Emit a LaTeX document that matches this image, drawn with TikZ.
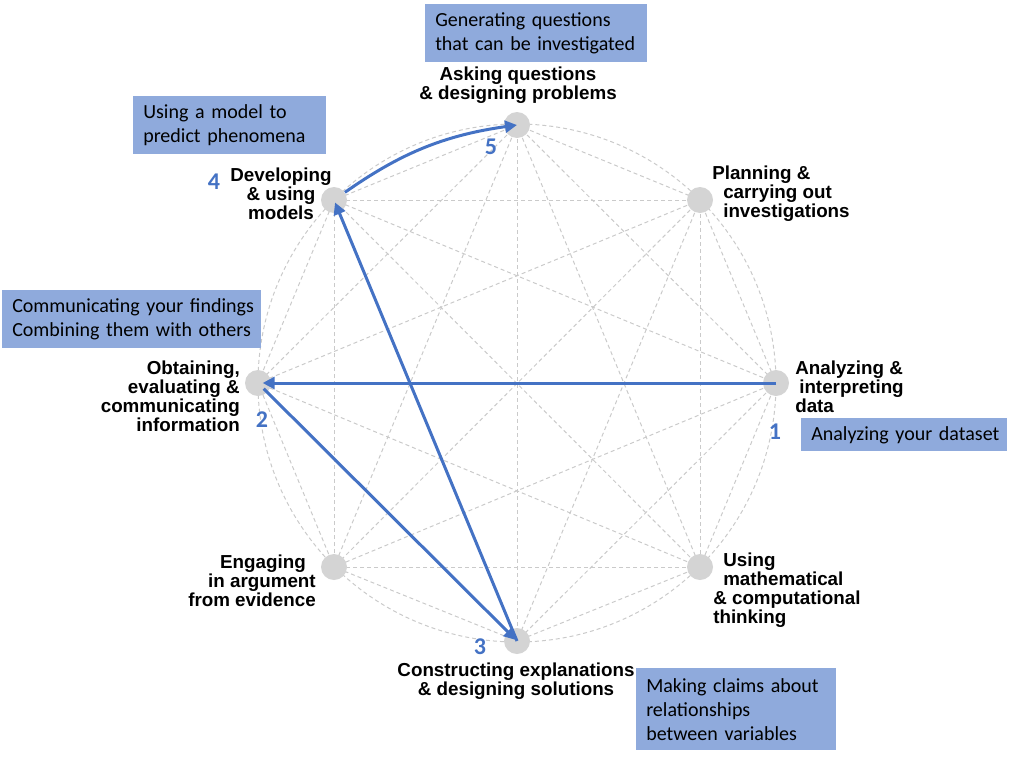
\documentclass[tikz,border=0pt]{standalone}
\usepackage{fontspec}
\setmainfont{Liberation Sans}
\newfontfamily\boxfont{Carlito}
\newcommand\notetextfont{\boxfont\fontsize{15}{18}\selectfont\spaceskip=3pt plus 1pt\relax}
\usetikzlibrary{arrows.meta,backgrounds}
\definecolor{boxblue}{HTML}{8FAADC}
\definecolor{arrblue}{HTML}{4472C4}
\definecolor{dotgray}{HTML}{D4D4D4}
\definecolor{dashgray}{HTML}{CACACA}
\tikzset{
  dot/.style={circle,fill=dotgray,minimum size=19.5pt,inner sep=0pt},
  pract/.style={font=\fontsize{14.1}{14.25}\selectfont\bfseries, inner sep=0pt},
  note/.style={fill=boxblue, anchor=north west, font=\notetextfont,
    align=left, inner xsep=7.5pt, inner ysep=0pt},
  num/.style={text=arrblue, font=\boxfont\bfseries\fontsize{18}{18}\selectfont, inner sep=0pt},
  dashline/.style={draw=dashgray, line width=0.75pt, dash pattern=on 3pt off 2.25pt},
  flow/.style={draw=arrblue, line width=2.25pt, -{Triangle[length=9pt,width=9pt]}}
}
\begin{document}
\begin{tikzpicture}[x=0.75pt,y=-0.75pt]
\useasboundingbox (0,0) rectangle (1024,768);
% practice dots
\node[dot] (q) at (517,125) {};
\node[dot] (p) at (700,200) {};
\node[dot] (a) at (776,383) {};
\node[dot] (m) at (700,567) {};
\node[dot] (c) at (517,641) {};
\node[dot] (e) at (334,567) {};
\node[dot] (o) at (258,383) {};
\node[dot] (d) at (334,200) {};
\begin{scope}[on background layer]
  \draw[dashline] (517,383) circle[radius=259];
  \foreach \u [count=\i] in {q,p,a,m,c,e,o,d}{
    \foreach \v [count=\j] in {q,p,a,m,c,e,o,d}{
      \ifnum\i<\j \draw[dashline] (\u.center) -- (\v.center);\fi
    }
  }
\end{scope}
% practice labels
\node[pract, align=center] (lq) at (518,85.5) {Asking questions\\\& designing problems};
\node[pract, align=left, anchor=west] (lp) at (712,194) {Planning \&\\\hspace*{8.25pt}carrying out\\\hspace*{8.25pt}investigations};
\node[pract, align=left, anchor=west] (la) at (795,387) {Analyzing \&\\\hspace*{3pt}interpreting\\data};
\node[pract, align=left, anchor=west] (lm) at (713,590) {\hspace*{7.5pt}Using\\\hspace*{7.5pt}mathematical\\\& computational\\thinking};
\node[pract, align=center] (lc) at (516,681.5) {Constructing explanations\\\& designing solutions};
\node[pract, align=right, anchor=east] (le) at (316,580.5) {Engaging\hspace*{7.5pt}\\in argument\hspace*{7.5pt}\\from evidence};
\node[pract, align=right, anchor=east] (lo) at (240,396) {Obtaining,\\evaluating \&\hspace*{2.5pt}\\communicating\\information};
\node[pract, align=center] (ld) at (281,194) {Developing\\\& using\\models};
% note boxes
\node[note, minimum width=166.5pt, minimum height=43.5pt, text width=151.5pt] (b5) at (425,4) {\mbox{Generating questions}\\\mbox{that can be investigated}};
\node[note, minimum width=144.75pt, minimum height=43.5pt, text width=129.75pt] (b4) at (133,96) {\mbox{Using a model to}\\\mbox{predict phenomena}};
\node[note, minimum width=194.25pt, minimum height=43.5pt, text width=179.25pt] (b2) at (2,290) {\mbox{Communicating your findings}\\\mbox{Combining them with others}};
\node[note, minimum width=154.5pt, minimum height=24.75pt, text width=139.5pt] (b1) at (801,418) {\mbox{Analyzing your dataset}};
\node[note, minimum width=150pt, minimum height=61.5pt, text width=135pt] (b3) at (636,668) {\mbox{Making claims about}\\\mbox{relationships}\\\mbox{between variables}};
% step numbers
\node[num] (n5) at (491,147) {5};
\node[num] (n4) at (214,182) {4};
\node[num] (n2) at (262,420) {2};
\node[num] (n1) at (775,432) {1};
\node[num] (n3) at (480,647) {3};
% flow arrows
\draw[flow, shorten >=3.5pt] (a.center) -- (o.center);
\draw[flow, shorten <=6pt, shorten >=1pt] (o.center) -- (c.center);
\draw[flow, shorten >=2pt] (c.center) -- (d.center);
\draw[flow, shorten <=10pt] (d.center) to[out=35,in=188] (q.center);
\end{tikzpicture}
\end{document}
